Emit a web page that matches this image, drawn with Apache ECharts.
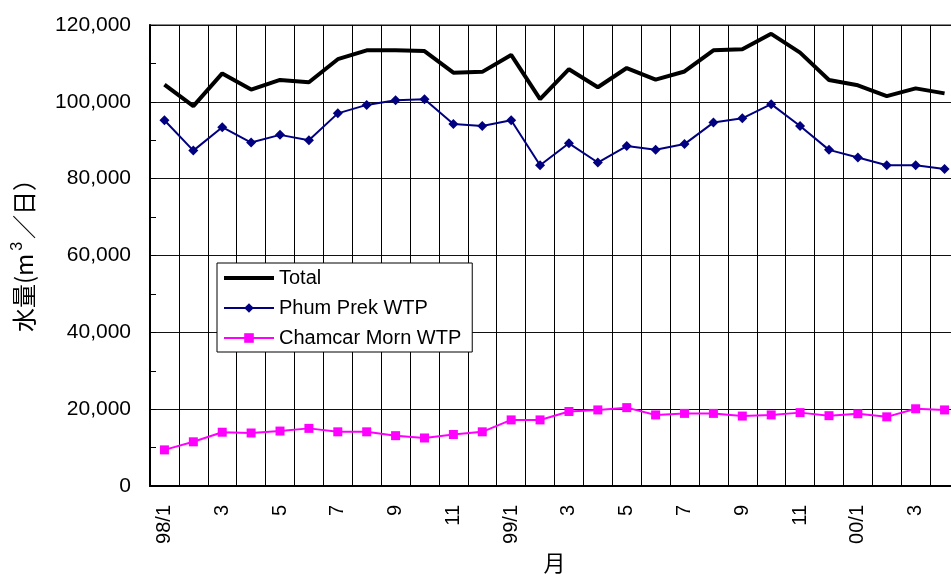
<!DOCTYPE html>
<html>
<head>
<meta charset="utf-8">
<script src="https://cdn.jsdelivr.net/npm/echarts@6/dist/echarts.min.js"></script>
<style>
html,body{margin:0;padding:0;background:#fff;}
#chart{width:951px;height:574px;}
</style>
</head>
<body>
<div id="chart"></div>
<script>
var months = ['98/1','98/2','98/3','98/4','98/5','98/6','98/7','98/8','98/9','98/10','98/11','98/12',
  '99/1','99/2','99/3','99/4','99/5','99/6','99/7','99/8','99/9','99/10','99/11','99/12',
  '00/1','00/2','00/3','00/4'];
var tickLabels = ['98/1','2','3','4','5','6','7','8','9','10','11','12',
  '99/1','2','3','4','5','6','7','8','9','10','11','12',
  '00/1','2','3','4'];
var total = [104500, 98900, 107400, 103200, 105700, 105100, 111100, 113400, 113400, 113200, 107600, 107800,
  112200, 100700, 108500, 103800, 108800, 105800, 107900, 113400, 113700, 117700, 112800, 105700,
  104300, 101500, 103500, 102200];
var phumPrek = [95200, 87300, 93400, 89400, 91400, 90000, 97000, 99200, 100400, 100700, 94200, 93700,
  95200, 83500, 89200, 84200, 88500, 87500, 89000, 94600, 95700, 99400, 93700, 87500,
  85500, 83500, 83500, 82500];
var chamcar = [9400, 11500, 14000, 13800, 14300, 15000, 14100, 14100, 13100, 12500, 13400, 14100,
  17200, 17200, 19400, 19800, 20400, 18500, 18900, 18900, 18200, 18500, 19100, 18300,
  18800, 18000, 20100, 19800];
var seriesNames = ['Total', 'Phum Prek WTP', 'Chamcar Morn WTP'];

var chart = echarts.init(document.getElementById('chart'), null, {renderer: 'canvas'});
var font = '"Liberation Sans", Arial, sans-serif';
chart.setOption({
  animation: false,
  backgroundColor: '#fff',
  grid: {
    left: 150, right: -8, top: 25, bottom: 88,
    outerBoundsMode: 'none',
    containLabel: false,
    show: true, borderColor: '#888', borderWidth: 2, backgroundColor: 'transparent'
  },
  legend: {
    orient: 'vertical',
    left: 217, top: 263,
    padding: [5, 11, 4, 5],
    itemGap: 10,
    itemWidth: 50,
    itemHeight: 12,
    backgroundColor: '#fff',
    borderColor: '#000',
    borderWidth: 1,
    borderRadius: 0,
    textStyle: {fontFamily: font, fontSize: 20, color: '#000'},
    data: [
      {name: seriesNames[0], itemStyle: {opacity: 0}, lineStyle: {width: 4, color: '#000'}},
      {name: seriesNames[1], lineStyle: {width: 2}},
      {name: seriesNames[2], lineStyle: {width: 2}}
    ]
  },
  xAxis: {
    type: 'category',
    data: months,
    boundaryGap: true,
    name: '月',
    nameLocation: 'middle',
    nameGap: 66,
    nameTextStyle: {fontFamily: '"Noto Sans CJK JP", sans-serif', fontSize: 22, color: '#000'},
    axisLine: {show: true, lineStyle: {color: '#000', width: 2}},
    axisTick: {show: false},
    axisLabel: {
      interval: 1, rotate: 90, margin: 19,
      fontFamily: font, fontSize: 20, color: '#000',
      formatter: function (v, i) { return tickLabels[i]; }
    },
    splitLine: {show: true, interval: 0, lineStyle: {color: '#000', width: 1}}
  },
  yAxis: {
    type: 'value',
    min: 0, max: 120000, interval: 20000,
    name: '水量(m{sup|3}／日）',
    nameLocation: 'middle',
    nameRotate: 90,
    nameGap: 112,
    nameTextStyle: {
      fontFamily: '"Noto Sans CJK JP", sans-serif', fontSize: 24, color: '#000',
      padding: [0, 0, 0, 12],
      rich: {sup: {fontSize: 16, verticalAlign: 'top', fontFamily: font, padding: [0, 3, 12, 3], color: '#000'}}
    },
    axisLine: {show: true, lineStyle: {color: '#000', width: 2}},
    axisTick: {show: true, inside: true, length: 6, lineStyle: {color: '#000', width: 1}},
    minorTick: {show: true, splitNumber: 2, length: 6, lineStyle: {color: '#000', width: 1}},
    axisLabel: {
      margin: 19, fontFamily: font, fontSize: 21, color: '#000',
      formatter: function (v) { return echarts.format.addCommas(v); }
    },
    splitLine: {show: true, lineStyle: {color: '#111', width: 1}}
  },
  series: [
    {
      name: seriesNames[0], type: 'line', data: total,
      symbol: 'none', lineStyle: {color: '#000', width: 4}, itemStyle: {color: '#000'}, z: 4
    },
    {
      name: seriesNames[1], type: 'line', data: phumPrek,
      symbol: 'diamond', symbolSize: 10, showAllSymbol: true,
      lineStyle: {color: '#000080', width: 2}, itemStyle: {color: '#000080'}, z: 3
    },
    {
      name: seriesNames[2], type: 'line', data: chamcar,
      symbol: 'rect', symbolSize: 9, showAllSymbol: true,
      lineStyle: {color: '#FF00FF', width: 2}, itemStyle: {color: '#FF00FF'}, z: 3
    }
  ]
});
</script>
</body>
</html>
